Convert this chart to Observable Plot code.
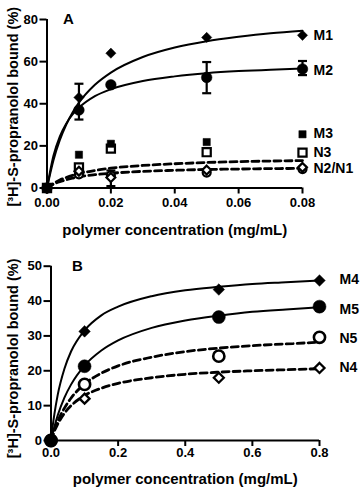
<!DOCTYPE html>
<html><head><meta charset="utf-8">
<script src="https://cdn.jsdelivr.net/npm/d3@7"></script>
<script src="https://cdn.jsdelivr.net/npm/@observablehq/plot@0.6"></script>
<style>body{margin:0;background:#fff} svg{display:block}</style>
</head><body><div id="chart"></div>
<script>
// ---------- Panel A data ----------
const concA = [0, 0.01, 0.02, 0.05, 0.08];
const M1 = [0, 43, 64, 71.5, 72.5];
const M2 = [0, 37, 49, 52.5, 56.5];
const M3 = [0, 15.8, 21, 21.8, 25.5];
const N3 = [0, 9.8, 18.7, 17, 16.8];
const N1 = [0, 6.5, 6, 7.3, 9];
const N2 = [0, 8, 5, 8.5, 9.8];
const errAx = [0.01, 0.05, 0.08, 0.02];
const errAlo = [32.5, 45, 53.6, 0.9];
const errAhi = [49.5, 59.8, 60.3, 8.3];
// fitted curves
const fitXA = [0, 0.002, 0.004, 0.006, 0.008, 0.01, 0.015, 0.02, 0.03, 0.04, 0.05, 0.06, 0.07, 0.08];
const fitM1 = [0, 13.1, 22.7, 30, 35.8, 40.5, 49, 54.8, 62.2, 66.7, 69.7, 71.8, 73.5, 74.7];
const fitM2 = [0, 15.2, 24.4, 30.5, 34.9, 38.1, 43.6, 46.9, 50.8, 53, 54.5, 55.5, 56.2, 56.7];
const fitN2 = [0, 2.1, 3.8, 5, 6, 6.8, 8.3, 9.4, 10.7, 11.5, 12.1, 12.5, 12.8, 13.0];
const fitN1 = [0, 1.8, 3, 3.9, 4.7, 5.3, 6.3, 7, 7.9, 8.4, 8.8, 9, 9.2, 9.3];
const labelsA = ["M1", "M2", "M3", "N3", "N2/N1"];
const labelAy = [72.3, 55.6, 26, 17, 9.1];
const ticksAx = [0, 0.02, 0.04, 0.06, 0.08];
const ticksAy = [0, 20, 40, 60, 80];

// ---------- Panel B data ----------
const concB = [0, 0.1, 0.5, 0.8];
const M4 = [0, 31.3, 43.3, 45.9];
const M5 = [0, 21.3, 35.4, 38.4];
const N5 = [0, 16.1, 24.2, 29.6];
const N4 = [0, 12, 18, 20.8];
const fitXB = [0, 0.005, 0.01, 0.02, 0.04, 0.06, 0.1, 0.15, 0.2, 0.3, 0.4, 0.5, 0.6, 0.7, 0.8];
const fitM4 = [0, 4.1, 7.5, 13.1, 20.6, 25.6, 31.6, 35.9, 38.4, 41.4, 43.1, 44.1, 44.9, 45.4, 45.9];
const fitM5 = [0, 2.1, 3.9, 7.2, 12.3, 16.1, 21.5, 25.8, 28.7, 32.3, 34.4, 35.8, 36.9, 37.6, 38.2];
const fitN5 = [0, 1.6, 3, 5.5, 9.3, 12.2, 16.2, 19.3, 21.4, 23.9, 25.5, 26.5, 27.2, 27.7, 28.2];
const fitN4 = [0, 1.4, 2.7, 4.7, 7.8, 10, 12.9, 15, 16.4, 18, 19, 19.6, 20, 20.3, 20.6];
const labelsB = ["M4", "M5", "N5", "N4"];
const labelBy = [46.1, 37.5, 29.2, 21];
const ticksBx = [0, 0.2, 0.4, 0.6, 0.8];
const ticksBy = [0, 10, 20, 30, 40, 50];

const yTitle = "[\u00B3H]-S-propranolol bound (%)";
const xTitle = "polymer concentration (mg/mL)";
const FONT = "'Liberation Sans', Arial, sans-serif";

const capSymbol = {draw(ctx, size) { const w = Math.sqrt(size / Math.PI); ctx.moveTo(-w, 0); ctx.lineTo(w, 0); }};

const sx = d => d;
const line = (xs, ys, dashed) => Plot.line(xs, {x: sx, y: (d, i) => ys[i], curve: "monotone-x", stroke: "black",
  strokeWidth: dashed ? 2.8 : 2, strokeDasharray: dashed ? "7,4" : null});
const dots = (xs, ys, symbol, r, open, sw = 2.2) => Plot.dot(xs, {x: sx, y: (d, i) => ys[i], symbol, r,
  fill: open ? "white" : "black", stroke: "black", strokeWidth: open ? sw : 0.5});

const style = {fontFamily: FONT, fontSize: "13px", fontWeight: "bold", color: "black", background: "white"};

const plotA = Plot.plot({
  width: 360, height: 245,
  marginLeft: 46.5, marginRight: 58, marginTop: 19, marginBottom: 57.5,
  style,
  x: {domain: [0, 0.08]},
  y: {domain: [0, 80]},
  marks: [
    Plot.axisY({ticks: ticksAy, tickSize: 7, tickPadding: 2, strokeWidth: 2, label: null}),
    Plot.axisX({ticks: ticksAx, tickSize: 6, tickPadding: 4, strokeWidth: 2, tickFormat: d3.format(".2f"), label: null}),
    Plot.ruleX([0], {y1: 0, y2: 80, strokeWidth: 2}),
    Plot.ruleY([0], {x1: 0, x2: 0.08, strokeWidth: 2}),
    line(fitXA, fitN2, true),
    line(fitXA, fitN1, true),
    line(fitXA, fitM1, false),
    line(fitXA, fitM2, false),
    Plot.ruleX(errAx, {x: sx, y1: (d, i) => errAlo[i], y2: (d, i) => errAhi[i], strokeWidth: 2.2}),
    Plot.dot(errAx, {x: sx, y: (d, i) => errAlo[i], symbol: capSymbol, r: 4.5, fill: "none", stroke: "black", strokeWidth: 2.2}),
    Plot.dot(errAx, {x: sx, y: (d, i) => errAhi[i], symbol: capSymbol, r: 4.5, fill: "none", stroke: "black", strokeWidth: 2.2}),
    dots(concA, N3, "square", 4.6, true),
    dots(concA, N1, "circle", 4, true),
    dots(concA, N2, "diamond2", 4, true),
    dots(concA, M3, "square", 4.1, false),
    dots(concA, M2, "circle", 5.3, false),
    dots(concA, M1, "diamond2", 4.6, false),
    Plot.text(labelsA, {x: () => 0.08, y: (d, i) => labelAy[i], text: d => d, dx: 11, textAnchor: "start", fontSize: 14, fontWeight: "bold"}),
    Plot.text(["A"], {frameAnchor: "top-left", dx: 21.5, dy: 0, lineAnchor: "middle", textAnchor: "middle", fontSize: 15, fontWeight: "bold"}),
    Plot.text([yTitle], {frameAnchor: "left", rotate: -90, dx: -34, dy: 3, textAnchor: "middle", lineAnchor: "middle", fontSize: 14.5, fontWeight: "bold"}),
    Plot.text([xTitle], {frameAnchor: "bottom", dy: 42.5, textAnchor: "middle", lineAnchor: "middle", fontSize: 15, fontWeight: "bold"})
  ]
});

const plotB = Plot.plot({
  width: 360, height: 250,
  marginLeft: 50.5, marginRight: 41, marginTop: 20.7, marginBottom: 55,
  style,
  x: {domain: [0, 0.8]},
  y: {domain: [0, 50]},
  marks: [
    Plot.axisY({ticks: ticksBy, tickSize: 7, tickPadding: 2, strokeWidth: 2, label: null}),
    Plot.axisX({ticks: ticksBx, tickSize: 6, tickPadding: 1, strokeWidth: 2, tickFormat: d3.format(".1f"), label: null}),
    Plot.ruleX([0], {y1: 0, y2: 50, strokeWidth: 2}),
    Plot.ruleY([0], {x1: 0, x2: 0.8, strokeWidth: 2}),
    line(fitXB, fitN5, true),
    line(fitXB, fitN4, true),
    line(fitXB, fitM4, false),
    line(fitXB, fitM5, false),
    dots(concB, N5, "circle", 5.6, true, 2.6),
    dots(concB, N4, "diamond2", 4.5, true, 2.3),
    dots(concB, M4, "diamond2", 5.2, false),
    dots(concB, M5, "circle", 6.5, false),
    Plot.text(labelsB, {x: () => 0.8, y: (d, i) => labelBy[i], text: d => d, dx: 20, textAnchor: "start", fontSize: 14, fontWeight: "bold"}),
    Plot.text(["B"], {frameAnchor: "top-left", dx: 26.5, dy: 0, lineAnchor: "middle", textAnchor: "middle", fontSize: 15, fontWeight: "bold"}),
    Plot.text([yTitle], {frameAnchor: "left", rotate: -90, dx: -38, dy: 5, textAnchor: "middle", lineAnchor: "middle", fontSize: 14.5, fontWeight: "bold"}),
    Plot.text([xTitle], {frameAnchor: "bottom", dy: 39, textAnchor: "middle", lineAnchor: "middle", fontSize: 15, fontWeight: "bold"})
  ]
});

const el = document.getElementById("chart");
el.append(plotA, plotB);
</script>
</body></html>
